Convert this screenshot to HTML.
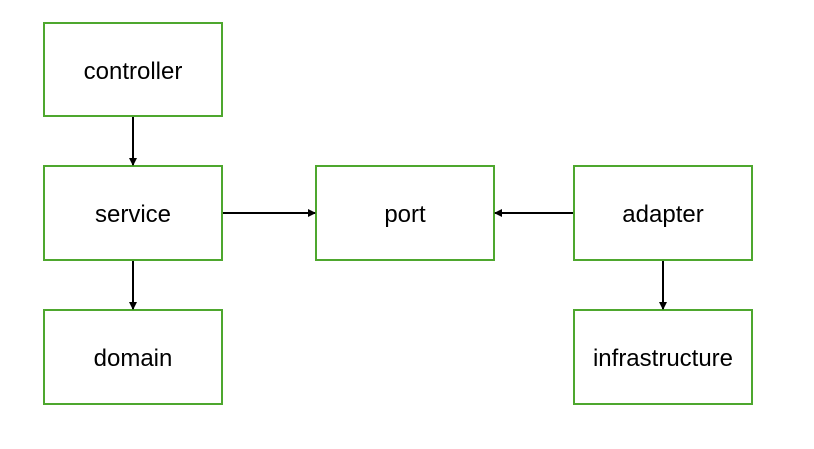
<!DOCTYPE html>
<html><head><meta charset="utf-8"><style>
html,body{margin:0;padding:0;background:#fff;width:814px;height:449px;overflow:hidden}
</style></head><body>
<svg width="814" height="449" xmlns="http://www.w3.org/2000/svg" font-family="Liberation Sans, sans-serif" font-size="24">
<defs><marker id="a" markerWidth="8" markerHeight="8" refX="7" refY="4" orient="auto" markerUnits="userSpaceOnUse"><path d="M0,0 L8,4 L0,8 z" fill="#000"/></marker></defs>
<g fill="#fff" stroke="#4ea72e" stroke-width="2">
<rect x="44" y="23" width="178" height="93"/>
<rect x="44" y="166" width="178" height="94"/>
<rect x="44" y="310" width="178" height="94"/>
<rect x="316" y="166" width="178" height="94"/>
<rect x="574" y="166" width="178" height="94"/>
<rect x="574" y="310" width="178" height="94"/>
</g>
<g stroke="#000" stroke-width="2" marker-end="url(#a)">
<line x1="133" y1="117" x2="133" y2="165"/>
<line x1="133" y1="261" x2="133" y2="309"/>
<line x1="223" y1="213" x2="315" y2="213"/>
<line x1="573" y1="213" x2="495" y2="213"/>
<line x1="663" y1="261" x2="663" y2="309"/>
</g>
<g text-anchor="middle" fill="#000">
<text x="133" y="79">controller</text>
<text x="133" y="222">service</text>
<text x="133" y="366">domain</text>
<text x="405" y="222">port</text>
<text x="663" y="222">adapter</text>
<text x="663" y="366">infrastructure</text>
</g>
</svg>
</body></html>
